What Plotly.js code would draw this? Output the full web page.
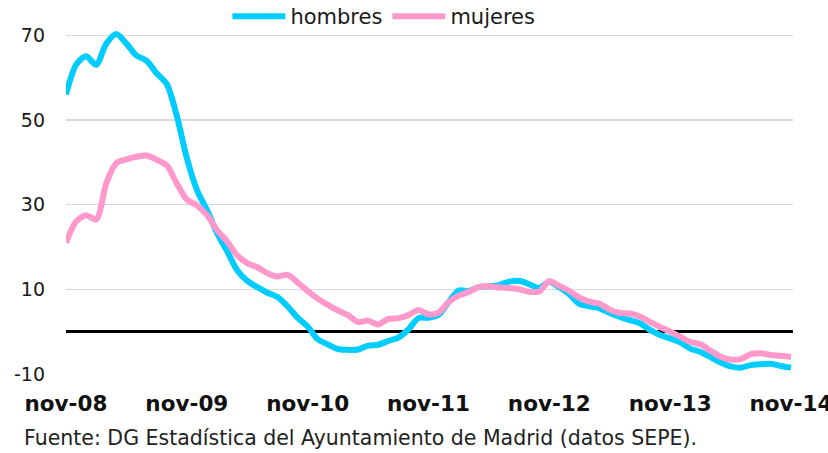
<!DOCTYPE html>
<html><head><meta charset="utf-8">
<script src="https://cdn.plot.ly/plotly-3.0.1.min.js"></script>
<style>html,body{margin:0;padding:0;background:#fff}#chart{width:828px;height:453px}</style>
</head><body><div id="chart"></div>
<script>
const months = ["nov-08","dic-08","ene-09","feb-09","mar-09","abr-09","may-09","jun-09","jul-09","ago-09","sep-09","oct-09",
"nov-09","dic-09","ene-10","feb-10","mar-10","abr-10","may-10","jun-10","jul-10","ago-10","sep-10","oct-10",
"nov-10","dic-10","ene-11","feb-11","mar-11","abr-11","may-11","jun-11","jul-11","ago-11","sep-11","oct-11",
"nov-11","dic-11","ene-12","feb-12","mar-12","abr-12","may-12","jun-12","jul-12","ago-12","sep-12","oct-12",
"nov-12","dic-12","ene-13","feb-13","mar-13","abr-13","may-13","jun-13","jul-13","ago-13","sep-13","oct-13",
"nov-13","dic-13","ene-14","feb-14","mar-14","abr-14","may-14","jun-14","jul-14","ago-14","sep-14","oct-14",
"nov-14"];
const hombres = [56,63,65,63,68,70.3,68,65.2,64,61,58.5,51,41,
33.5,28.7,23.3,19,14.5,12,10.5,9.2,8.2,6,3.3,1.2,-1.8,
-3,-4.1,-4.3,-4.2,-3.3,-3.1,-2.2,-1.4,0.5,3.2,3.3,4,7,
9.7,9.6,10.5,10.7,11,11.8,12,11.2,10.3,11.8,10.5,
8.8,6.5,6,5.5,4.4,3.5,2.7,2,0.4,-0.8,-1.6,-2.5,-4,
-4.8,-6,-7.3,-8.2,-8.5,-7.9,-7.7,-7.6,-8.1,-8.5];
const mujeres = [21,26,27.5,26.5,35,39.8,40.7,41.3,41.6,40.6,39.3,35,31.2,
29.8,27.5,24,21.3,18,16.2,15.2,13.8,13,13.4,11.6,9.6,7.8,
6.3,5,3.9,2.3,2.6,1.7,3.0,3.2,3.9,5.1,4.1,4.5,7,
8.5,9.4,10.5,10.7,10.4,10.3,10.0,9.4,9.5,11.9,10.8,
9.6,8,7.1,6.6,5.2,4.4,4.3,3.6,2.3,1.1,0,-1.2,-2.4,
-3,-4.5,-5.9,-6.6,-6.5,-5.3,-5.1,-5.5,-5.7,-6];
const tickLabels = ["nov-08","nov-09","nov-10","nov-11","nov-12","nov-13","nov-14"];
const yTicks = [-10,10,30,50,70];
const yTickText = ["-10","10","30","50","70"];
const sourceText = "Fuente: DG Estadística del Ayuntamiento de Madrid (datos SEPE).";

const FONT = "DejaVu Sans";
const traces = [
  {x: months, y: hombres, name: "hombres", type: "scatter", mode: "lines",
   line: {color: "#00CCFF", width: 6, shape: "spline", smoothing: 0.8}},
  {x: months, y: mujeres, name: "mujeres", type: "scatter", mode: "lines",
   line: {color: "#FF99CC", width: 6, shape: "spline", smoothing: 0.8}}
];
const layout = {
  width: 828, height: 453,
  margin: {l: 66, r: 35, t: 14, b: 79, autoexpand: false},
  paper_bgcolor: "#fff", plot_bgcolor: "#fff",
  font: {family: FONT, color: "#1a1a1a"},
  showlegend: true,
  legend: {orientation: "h", x: 0.222, xanchor: "left", y: 0.993, yanchor: "middle",
    font: {family: FONT, size: 21, color: "#1a1a1a"}, bgcolor: "rgba(0,0,0,0)",
    itemwidth: 53, tracegroupgap: 0},
  xaxis: {type: "category", range: [0, 72.2], tickmode: "array", tickvals: tickLabels, ticktext: tickLabels,
    showgrid: false, zeroline: false, showline: false, ticks: "",
    tickangle: 0, ticklabelstandoff: 14,
    tickfont: {family: FONT, size: 21.5, weight: "bold", color: "#111"}},
  yaxis: {range: [-10, 75], tickmode: "array", tickvals: yTicks, ticktext: yTickText,
    showgrid: true, gridcolor: "#d9d9d9", gridwidth: 1.3,
    zeroline: true, zerolinecolor: "#000", zerolinewidth: 3,
    showline: false, ticks: "", ticklabelstandoff: 20,
    tickfont: {family: FONT, size: 19, color: "#1a1a1a"}},
  annotations: [
    {text: sourceText, xref: "paper", yref: "paper", x: -0.0605, y: -0.178,
     xanchor: "left", yanchor: "middle", showarrow: false,
     font: {family: FONT, size: 20.5, color: "#222"}}
  ]
};
Plotly.newPlot("chart", traces, layout, {staticPlot: true, displayModeBar: false});
</script>
</body></html>
